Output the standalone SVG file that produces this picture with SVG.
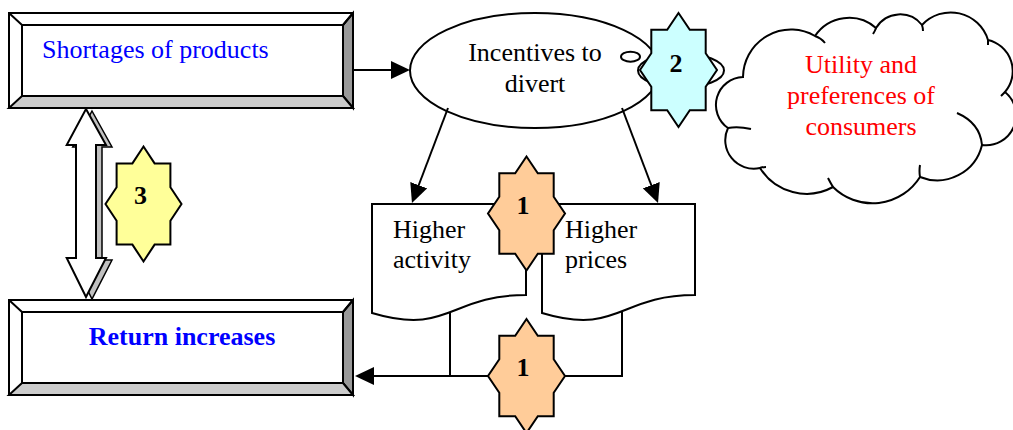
<svg xmlns="http://www.w3.org/2000/svg" width="1013" height="430" viewBox="0 0 1013 430">
  <style>
    .ln { fill: none; stroke: #000; stroke-width: 2; }
    .sh { stroke: #000; stroke-width: 2; stroke-linejoin: miter; }
    .t { font-family: "Liberation Serif", "Times New Roman", serif; font-size: 26px; }
    .num { font-family: "Liberation Serif", "Times New Roman", serif; font-size: 26px; font-weight: bold; text-anchor: middle; }
    .blue { fill: #0000ff; }
    .red { fill: #ff0000; }
    .mid { text-anchor: middle; }
  </style>
  <defs>
    <marker id="ah" markerUnits="userSpaceOnUse" markerWidth="19" markerHeight="18" viewBox="0 0 19 18" refX="11" refY="9" orient="auto">
      <path d="M0,0 L19,9 L0,18 Z" fill="#000"/>
    </marker>
  </defs>

  <!-- bevelled box: shortages -->
  <g id="box-shortages">
    <rect x="9" y="13" width="344" height="95" fill="#fff" class="sh"/>
    <polygon points="353,13 353,108 343,96 343,25" fill="#999" class="sh"/>
    <polygon points="9,108 353,108 343,96 22,96" fill="#ccc" class="sh"/>
    <path d="M9,13 L22,25 M353,13 L343,25" class="ln"/>
    <rect x="22" y="25" width="321" height="71" fill="#fff" class="sh"/>
    <text x="42" y="58" class="t blue">Shortages of products</text>
  </g>

  <!-- bevelled box: return -->
  <g id="box-return">
    <rect x="9" y="300" width="344" height="95" fill="#fff" class="sh"/>
    <polygon points="353,300 353,395 343,383 343,312" fill="#999" class="sh"/>
    <polygon points="9,395 353,395 343,383 22,383" fill="#ccc" class="sh"/>
    <path d="M9,300 L22,312 M353,300 L343,312" class="ln"/>
    <rect x="22" y="312" width="321" height="71" fill="#fff" class="sh"/>
    <text x="182" y="345" class="t blue mid" font-weight="bold">Return increases</text>
  </g>

  <!-- incentives ellipse -->
  <g id="incentives">
    <ellipse cx="535" cy="70.5" rx="125" ry="57.5" fill="#fff" class="sh"/>
    <text x="535" y="61" class="t mid">Incentives to</text>
    <text x="535" y="92" class="t mid">divert</text>
  </g>

  <!-- connectors -->
  <g id="connectors">
    <g id="double-arrow">
      <path transform="translate(6,2)" d="M86,109 L106,145 L96,145 L96,258 L106,258 L86,297 L66.7,258 L76,258 L76,145 L66.7,145 Z" fill="#c0c0c0" stroke="#000" stroke-width="1.5"/>
      <path d="M86,109 L106,145 L96,145 L96,258 L106,258 L86,297 L66.7,258 L76,258 L76,145 L66.7,145 Z" fill="#fff" class="sh"/>
    </g>
    <line x1="354" y1="70" x2="402" y2="70" class="ln" marker-end="url(#ah)"/>
    <line x1="448" y1="108" x2="414.8" y2="195.5" class="ln" marker-end="url(#ah)"/>
    <line x1="622" y1="108" x2="655.2" y2="195.5" class="ln" marker-end="url(#ah)"/>
    <line x1="450" y1="313" x2="450" y2="376" class="ln"/>
    <polyline points="622,312 622,376 363,376" class="ln" marker-end="url(#ah)"/>
  </g>

  <!-- documents -->
  <g id="doc-activity">
    <path d="M372,204 H526 V295 C449,295 449,336 372,313 Z" fill="#fff" class="sh"/>
    <text x="393" y="238" class="t">Higher</text>
    <text x="393" y="268" class="t">activity</text>
  </g>
  <g id="doc-prices">
    <path d="M542,204 H695 V295 C618.5,295 618.5,336 542,313 Z" fill="#fff" class="sh"/>
    <text x="565" y="238" class="t">Higher</text>
    <text x="565" y="268" class="t">prices</text>
  </g>

  <!-- cloud callout -->
  <g id="cloud">
    <ellipse cx="630.5" cy="56.7" rx="9.5" ry="5" fill="#fff" class="sh"/>
    <ellipse cx="681" cy="70.5" rx="43" ry="17" fill="#fff" class="sh"/>
    <path d="M743,77 A48,48 0 0 1 815,36 A41,41 0 0 1 876,28 A28,28 0 0 1 922,25 A39,39 0 0 1 988,40 A32,32 0 0 1 1005,92 A30,30 0 0 1 982,145 A46,46 0 0 1 920,177 A56,56 0 0 1 833,187 A55,55 0 0 1 760,168 A28.5,28.5 0 0 1 728,128 A28,28 0 0 1 743,77 Z" fill="#fff" class="sh"/>
    <path d="M815,36 Q821,38 825,43 M876,28 Q875,31 873,34 M922,25 Q923,28 923,31 M988,40 Q988,43 988,45 M1005,92 Q1003,94 1001,96 M982,145 Q980,123 957,113 M920,177 Q919,171 920,165 M833,187 Q830,182 828,178 M760,168 Q763,167 766,167 M728,128 Q738,126 751,129" class="ln"/>
    <text x="861" y="73" class="t mid red">Utility and</text>
    <text x="861" y="104" class="t mid red">preferences of</text>
    <text x="861" y="135" class="t mid red">consumers</text>
  </g>

  <!-- numbered stars -->
  <g id="star-2">
    <polygon points="678.5,13 689.8,29.7 705.7,29.7 705.7,53.3 717,70 705.7,86.7 705.7,110.3 689.8,110.3 678.5,127 667.2,110.3 651.3,110.3 651.3,86.7 640,70 651.3,53.3 651.3,29.7 667.2,29.7" fill="#ccffff" class="sh"/>
    <text x="676" y="72" class="num">2</text>
  </g>
  <g id="star-3">
    <polygon points="143.5,146.5 154.6,163.4 170.4,163.4 170.4,187.2 181.5,204 170.4,220.8 170.4,244.6 154.6,244.6 143.5,261.5 132.4,244.6 116.6,244.6 116.6,220.8 105.5,204 116.6,187.2 116.6,163.4 132.4,163.4" fill="#ffff99" class="sh"/>
    <text x="140.5" y="204" class="num">3</text>
  </g>
  <g id="star-1-top">
    <polygon points="526.5,156.5 537.8,173.2 553.7,173.2 553.7,196.8 565,213.5 553.7,230.2 553.7,253.8 537.8,253.8 526.5,270.5 515.2,253.8 499.3,253.8 499.3,230.2 488,213.5 499.3,196.8 499.3,173.2 515.2,173.2" fill="#ffcc99" class="sh"/>
    <text x="523" y="214" class="num">1</text>
  </g>
  <g id="star-1-bottom">
    <polygon points="526.5,319 537.8,335.7 553.7,335.7 553.7,359.3 565,376 553.7,392.7 553.7,416.3 537.8,416.3 526.5,433 515.2,416.3 499.3,416.3 499.3,392.7 488,376 499.3,359.3 499.3,335.7 515.2,335.7" fill="#ffcc99" class="sh"/>
    <text x="523" y="376" class="num">1</text>
  </g>
</svg>
